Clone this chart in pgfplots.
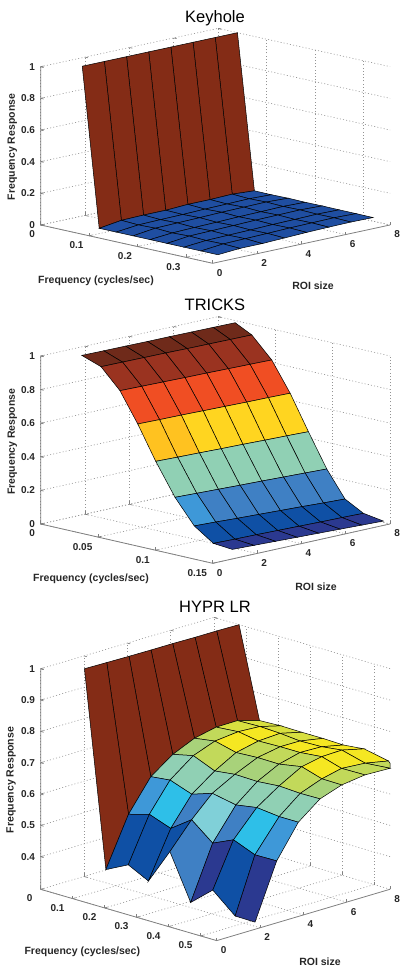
\documentclass[border=0pt]{standalone}
\usepackage{fontspec}
\setmainfont{Liberation Sans}
\usepackage{pgfplots}
\pgfplotsset{compat=1.18}
\pgfplotsset{
  colormap={pan}{
    rgb255=(43,57,144) rgb255=(15,80,165) rgb255=(63,128,196) rgb255=(62,152,216)
    rgb255=(46,191,232) rgb255=(128,208,216) rgb255=(144,208,180) rgb255=(168,210,122)
    rgb255=(194,217,90) rgb255=(216,224,64) rgb255=(245,231,34) rgb255=(132,44,22)
    rgb255=(240,78,35) rgb255=(255,213,32) rgb255=(111,42,26) rgb255=(154,51,32)
    rgb255=(31,78,161) rgb255=(255,194,32)},
  every axis title shift=0pt,
  panel/.style={
    clip=false,
    xmin=0, ymin=0, ymax=8,
    axis line style={draw=none},
    grid=major,
    grid style={dash pattern=on 1pt off 2.2pt, gray!85, line width=0.6pt},
    tick style={gray, line width=0.7pt},
    major tick length=3pt,
    tick pos=left,
    scaled ticks=false,
    ytick={0,2,4,6,8},
    yticklabels={0,2,4,6,8},
    tick label style={font=\bfseries\fontsize{10}{12}\selectfont, inner sep=0pt, text=black!85},
    xticklabel style={anchor=east, xshift=-5.5pt, yshift=-9.5pt},
    yticklabel style={anchor=center, xshift=7pt, yshift=-9.5pt},
    zticklabel style={anchor=east, xshift=-5.5pt},
    label style={font=\bfseries\fontsize{10.5}{12}\selectfont, text=black!85, inner sep=0pt},
    title style={font=\fontsize{16.5}{19}\selectfont, inner sep=0pt, anchor=center},
    xlabel={Frequency (cycles/sec)},
    ylabel={ROI size},
    zlabel={Frequency Response},
    colormap name=pan,
    colormap access=direct,
  },
  sheet/.style={surf, shader=flat corner, draw=black, line width=0.5pt,
    mesh/cols=9, mesh/rows=8, point meta=explicit},
}
\begin{document}
\begin{tikzpicture}
\path[use as bounding box] (0,0) rectangle (407pt,974pt);

% ---------- Keyhole
\begin{axis}[panel, at={(40.7pt,749pt)}, anchor=origin,
  x={(484.5pt,-107.9pt)}, y={(22.17pt,4.79pt)}, z={(0pt,158.3pt)},
  xmax=0.355, zmin=0, zmax=1,
  xtick={0,0.1,0.2,0.3}, xticklabels={0,0.1,0.2,0.3},
  ztick={0,0.2,0.4,0.6,0.8,1}, zticklabels={0,0.2,0.4,0.6,0.8,1},
  title={Keyhole},
  title style={at={(axis cs:0,0,0)}, xshift=174.3pt, yshift=207pt},
  xlabel style={at={(axis cs:0,0,0)}, anchor=center, xshift=55.3pt, yshift=-56pt},
  ylabel style={at={(axis cs:0,0,0)}, anchor=center, xshift=272.3pt, yshift=-61pt},
  zlabel style={at={(axis cs:0,0,0)}, anchor=center, xshift=78pt, yshift=28.4pt},
]
\addplot3[sheet] table[x=f,y=r,z=z,meta=c] {
f r z c
.040 1 1 11
.075 1 0 16
.110 1 0 16
.145 1 0 16
.180 1 0 16
.215 1 0 16
.250 1 0 16
.285 1 0 16
.320 1 0 16

.040 2 1 11
.075 2 .020 16
.110 2 .015 16
.145 2 .018 16
.180 2 .012 16
.215 2 .016 16
.250 2 .012 16
.285 2 .014 16
.320 2 .010 16

.040 3 1 11
.075 3 .023 16
.110 3 .018 16
.145 3 .021 16
.180 3 .016 16
.215 3 .019 16
.250 3 .015 16
.285 3 .017 16
.320 3 .010 16

.040 4 1 11
.075 4 .023 16
.110 4 .020 16
.145 4 .024 16
.180 4 .019 16
.215 4 .022 16
.250 4 .018 16
.285 4 .020 16
.320 4 .015 16

.040 5 1 11
.075 5 .030 16
.110 5 .024 16
.145 5 .028 16
.180 5 .023 16
.215 5 .026 16
.250 5 .022 16
.285 5 .024 16
.320 5 .020 16

.040 6 1 11
.075 6 .030 16
.110 6 .026 16
.145 6 .030 16
.180 6 .025 16
.215 6 .028 16
.250 6 .024 16
.285 6 .026 16
.320 6 .023 16

.040 7 1 11
.075 7 .034 16
.110 7 .029 16
.145 7 .032 16
.180 7 .028 16
.215 7 .030 16
.250 7 .027 16
.285 7 .028 16
.320 7 .025 16

.040 8 1 11
.075 8 .025 16
.110 8 .024 16
.145 8 .026 16
.180 8 .024 16
.215 8 .025 16
.250 8 .024 16
.285 8 .024 16
.320 8 .023 16
};
\draw[gray, line width=0.8pt] (axis cs:0,0,1) -- (axis cs:0,0,0) -- (axis cs:0.355,0,0) -- (axis cs:0.355,8,0);
\end{axis}

% ---------- TRICKS
\begin{axis}[panel, at={(40.7pt,450pt)}, anchor=origin,
  x={(1146.7pt,-262pt)}, y={(22.17pt,4.92pt)}, z={(0pt,168pt)},
  xmax=0.15, zmin=0, zmax=1,
  xtick={0,0.05,0.1,0.15}, xticklabels={0,0.05,0.1,0.15},
  ztick={0,0.2,0.4,0.6,0.8,1}, zticklabels={0,0.2,0.4,0.6,0.8,1},
  title={TRICKS},
  title style={at={(axis cs:0,0,0)}, xshift=174.3pt, yshift=219pt},
  xlabel style={at={(axis cs:0,0,0)}, anchor=center, xshift=50.3pt, yshift=-54.7pt},
  ylabel style={at={(axis cs:0,0,0)}, anchor=center, xshift=275.3pt, yshift=-62.7pt},
  zlabel style={at={(axis cs:0,0,0)}, anchor=center, xshift=82.3pt, yshift=28.4pt},
]
\addplot3[sheet] table[x=f,y=r,z=z,meta=c] {
f r z c
.0165 1 1 14
.0333 1 .959 15
.0498 1 .842 12
.0653 1 .668 17
.0810 1 .470 6
.0978 1 .282 3
.1146 1 .138 1
.1313 1 .060 0
.1478 1 .050 0

.0163 2 .998 14
.0327 2 .956 15
.0494 2 .838 12
.0650 2 .664 17
.0807 2 .465 6
.0974 2 .276 2
.1140 2 .131 1
.1307 2 .055 0
.1473 2 .044 0

.0160 3 .996 14
.0322 3 .953 15
.0489 3 .834 12
.0646 3 .661 13
.0804 3 .461 6
.0969 3 .270 2
.1135 3 .123 1
.1300 3 .051 0
.1468 3 .038 0

.0158 4 .994 14
.0316 4 .950 15
.0485 4 .830 12
.0643 4 .657 13
.0801 4 .456 6
.0965 4 .264 2
.1129 4 .116 1
.1294 4 .046 0
.1463 4 .032 0

.0156 5 .993 14
.0311 5 .946 15
.0481 5 .827 12
.0639 5 .653 13
.0797 5 .452 6
.0961 5 .259 2
.1124 5 .109 1
.1287 5 .041 0
.1457 5 .026 0

.0154 6 .991 14
.0305 6 .943 15
.0477 6 .823 12
.0636 6 .649 13
.0794 6 .447 6
.0957 6 .253 2
.1118 6 .102 1
.1281 6 .036 0
.1452 6 .020 0

.0151 7 .989 14
.0300 7 .940 15
.0472 7 .819 12
.0632 7 .646 13
.0791 7 .443 6
.0952 7 .247 2
.1113 7 .094 1
.1274 7 .032 0
.1447 7 .014 0

.0149 8 .987 14
.0294 8 .937 15
.0468 8 .815 12
.0629 8 .642 13
.0788 8 .438 6
.0948 8 .241 2
.1107 8 .087 1
.1268 8 .027 0
.1442 8 .008 0
};
\draw[gray, line width=0.8pt] (axis cs:0,0,1) -- (axis cs:0,0,0) -- (axis cs:0.15,0,0) -- (axis cs:0.15,8,0);
\end{axis}

% ---------- HYPR LR
\begin{axis}[panel, at={(40.7pt,84.7pt)}, anchor=origin,
  x={(320pt,-93.3pt)}, y={(21.67pt,6.42pt)}, z={(0pt,313.3pt)},
  xmax=0.55, zmin=0.296, zmax=1,
  xtick={0,0.1,0.2,0.3,0.4,0.5}, xticklabels={0,0.1,0.2,0.3,0.4,0.5},
  ztick={0.4,0.5,0.6,0.7,0.8,0.9,1}, zticklabels={0.4,0.5,0.6,0.7,0.8,0.9,1},
  xticklabel style={xshift=-2.5pt, yshift=0.5pt},
  title={HYPR LR},
  title style={at={(axis cs:0,0,0.296)}, xshift=174.3pt, yshift=282.3pt},
  xlabel style={at={(axis cs:0,0,0.296)}, anchor=center, xshift=41.6pt, yshift=-62.4pt},
  ylabel style={at={(axis cs:0,0,0.296)}, anchor=center, xshift=279.3pt, yshift=-72.4pt},
  zlabel style={at={(axis cs:0,0,0.296)}, anchor=center, xshift=109.3pt, yshift=29.7pt},
]
\addplot3[sheet] table[x=f,y=r,z=z,meta=c] {
f r z c
.069 1 1 11
.136 1 .379 1
.206 1 .415 1
.269 1 .382 1
.336 1 .496 2
.401 1 .353 0
.470 1 .413 1
.540 1 .351 0
.602 1 .350 0

.071 2 1 11
.139 2 .536 3
.204 2 .555 4
.271 2 .530 2
.336 2 .577 5
.402 2 .522 2
.467 2 .552 4
.534 2 .524 3
.602 2 .525 3

.073 3 1 11
.141 3 .636 6
.201 3 .643 6
.269 3 .618 6
.333 3 .640 6
.407 3 .625 6
.472 3 .636 6
.542 3 .628 6
.602 3 .628 6

.074 4 1 11
.142 4 .687 7
.206 4 .702 8
.273 4 .673 7
.336 4 .681 7
.406 4 .679 7
.474 4 .685 8
.540 4 .681 7
.602 4 .682 7

.074 5 1 11
.142 5 .718 8
.206 5 .728 10
.272 5 .711 8
.339 5 .715 8
.406 5 .714 8
.477 5 .727 10
.540 5 .707 8
.602 5 .706 8

.076 6 1 11
.142 6 .733 9
.211 6 .739 10
.274 6 .728 9
.342 6 .730 10
.404 6 .730 10
.472 6 .737 10
.534 6 .718 8
.607 6 .719 8

.076 7 1 11
.141 7 .733 9
.211 7 .735 9
.274 7 .732 9
.336 7 .726 10
.404 7 .728 10
.467 7 .736 10
.540 7 .716 8
.618 7 .723 8

.078 8 1 11
.142 8 .713 9
.209 8 .716 9
.274 8 .715 9
.340 8 .715 9
.404 8 .713 10
.469 8 .720 10
.545 8 .704 8
.550 8 .698 8
};
\draw[gray, line width=0.8pt] (axis cs:0,0,1) -- (axis cs:0,0,0.296) -- (axis cs:0.55,0,0.296) -- (axis cs:0.55,8,0.296);
\end{axis}
\end{tikzpicture}
\end{document}
